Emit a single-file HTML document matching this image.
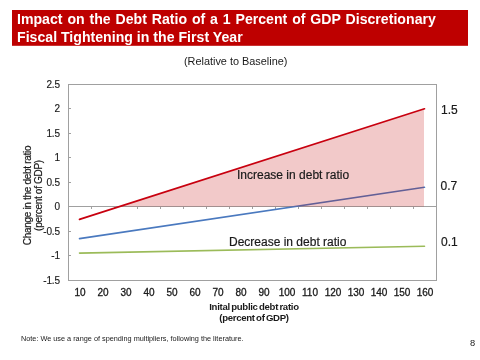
<!DOCTYPE html>
<html>
<head>
<meta charset="utf-8">
<style>
html,body{margin:0;padding:0;background:#fff;width:480px;height:360px;overflow:hidden;}
svg{display:block;font-family:"Liberation Sans",sans-serif;will-change:transform;}
.t{fill:#1a1a1a;}
</style>
</head>
<body>
<svg width="480" height="360" viewBox="0 0 480 360">
  <!-- title bar -->
  <rect x="12" y="10" width="456" height="35.8" fill="#BE0000"/>
  <g transform="translate(17,0) scale(0.955,1)" fill="#fff" font-size="14.8" font-weight="bold">
    <text x="0" y="23.8" style="word-spacing:0.95px">Impact on the Debt Ratio of a 1 Percent of GDP Discretionary</text>
    <text x="0" y="42.4" style="word-spacing:0px">Fiscal Tightening in the First Year</text>
  </g>
  

  <text class="t" x="235.7" y="64.7" font-size="10.9" text-anchor="middle">(Relative to Baseline)</text>

  <!-- plot -->
  <g shape-rendering="crispEdges" stroke="#A0A0A0" stroke-width="1" fill="none">
    <rect x="68.5" y="84.5" width="368" height="196"/>
    <line x1="68" y1="206.5" x2="436" y2="206.5"/>
    <path d="M68 108.5h3M68 133.5h3M68 157.5h3M68 182.5h3M68 231.5h3M68 255.5h3"/>
    <path d="M91.5 206v3M114.5 206v3M137.5 206v3M160.5 206v3M183.5 206v3M206.5 206v3M229.5 206v3M252.5 206v3M275.5 206v3M298.5 206v3M321.5 206v3M344.5 206v3M367.5 206v3M390.5 206v3M413.5 206v3"/>
  </g>

  <!-- series -->
  <line x1="79.5" y1="238.6" x2="424.5" y2="187.3" stroke="#4A79BF" stroke-width="1.6" stroke-linecap="round"/>
  <line x1="79.5" y1="253.1" x2="424.5" y2="246.3" stroke="#9BBB59" stroke-width="1.6" stroke-linecap="round"/>
  <polygon points="120.2,206.5 424,108.95 424,206.5" fill="#C00000" fill-opacity="0.21"/>
  <line x1="79.5" y1="219.4" x2="424.5" y2="108.8" stroke="#C8000F" stroke-width="1.7" stroke-linecap="round"/>

  <!-- y labels -->
  <g class="t" font-size="10" text-anchor="end" stroke="#1a1a1a" stroke-width="0.15" style="letter-spacing:-0.1px">
    <text x="60" y="87.6">2.5</text>
    <text x="60" y="112">2</text>
    <text x="60" y="136.5">1.5</text>
    <text x="60" y="161">1</text>
    <text x="60" y="185.5">0.5</text>
    <text x="60" y="210">0</text>
    <text x="60" y="234.5">-0.5</text>
    <text x="60" y="259">-1</text>
    <text x="60" y="284">-1.5</text>
  </g>
  <!-- x labels -->
  <g class="t" font-size="10" text-anchor="middle" stroke="#1a1a1a" stroke-width="0.3">
    <text x="80" y="295.8">10</text>
    <text x="103" y="295.8">20</text>
    <text x="126" y="295.8">30</text>
    <text x="149" y="295.8">40</text>
    <text x="172" y="295.8">50</text>
    <text x="195" y="295.8">60</text>
    <text x="218" y="295.8">70</text>
    <text x="241" y="295.8">80</text>
    <text x="264" y="295.8">90</text>
    <text x="287" y="295.8">100</text>
    <text x="310" y="295.8">110</text>
    <text x="333" y="295.8">120</text>
    <text x="356" y="295.8">130</text>
    <text x="379" y="295.8">140</text>
    <text x="402" y="295.8">150</text>
    <text x="425" y="295.8">160</text>
  </g>

  <!-- axis titles -->
  <g class="t" font-size="9.6" font-weight="bold" fill="#262626" text-anchor="middle" style="letter-spacing:-0.3px;word-spacing:-1px">
    <text x="254" y="310.1">Inital public debt ratio</text>
    <text x="254" y="321">(percent of GDP)</text>
  </g>
  <g class="t" font-size="10" text-anchor="middle" stroke="#1a1a1a" stroke-width="0.2" style="letter-spacing:-0.3px">
    <g transform="translate(31,195.5) rotate(-90)"><text x="0" y="0">Change in the debt ratio</text></g>
    <g transform="translate(42,195.5) rotate(-90)"><text x="0" y="0">(percent of GDP)</text></g>
  </g>

  <!-- annotations -->
  <g class="t" font-size="12" stroke="#1a1a1a" stroke-width="0.2">
    <text x="441" y="114">1.5</text>
    <text x="440.5" y="190">0.7</text>
    <text x="441" y="245.8">0.1</text>
    <text x="237" y="179">Increase in debt ratio</text>
    <text x="229" y="246">Decrease in debt ratio</text>
  </g>

  <text class="t" x="21" y="341" font-size="7.3">Note: We use a range of spending multipliers, following the literature.</text>
  <text class="t" x="470" y="346.2" font-size="9.3">8</text>
</svg>
</body>
</html>
